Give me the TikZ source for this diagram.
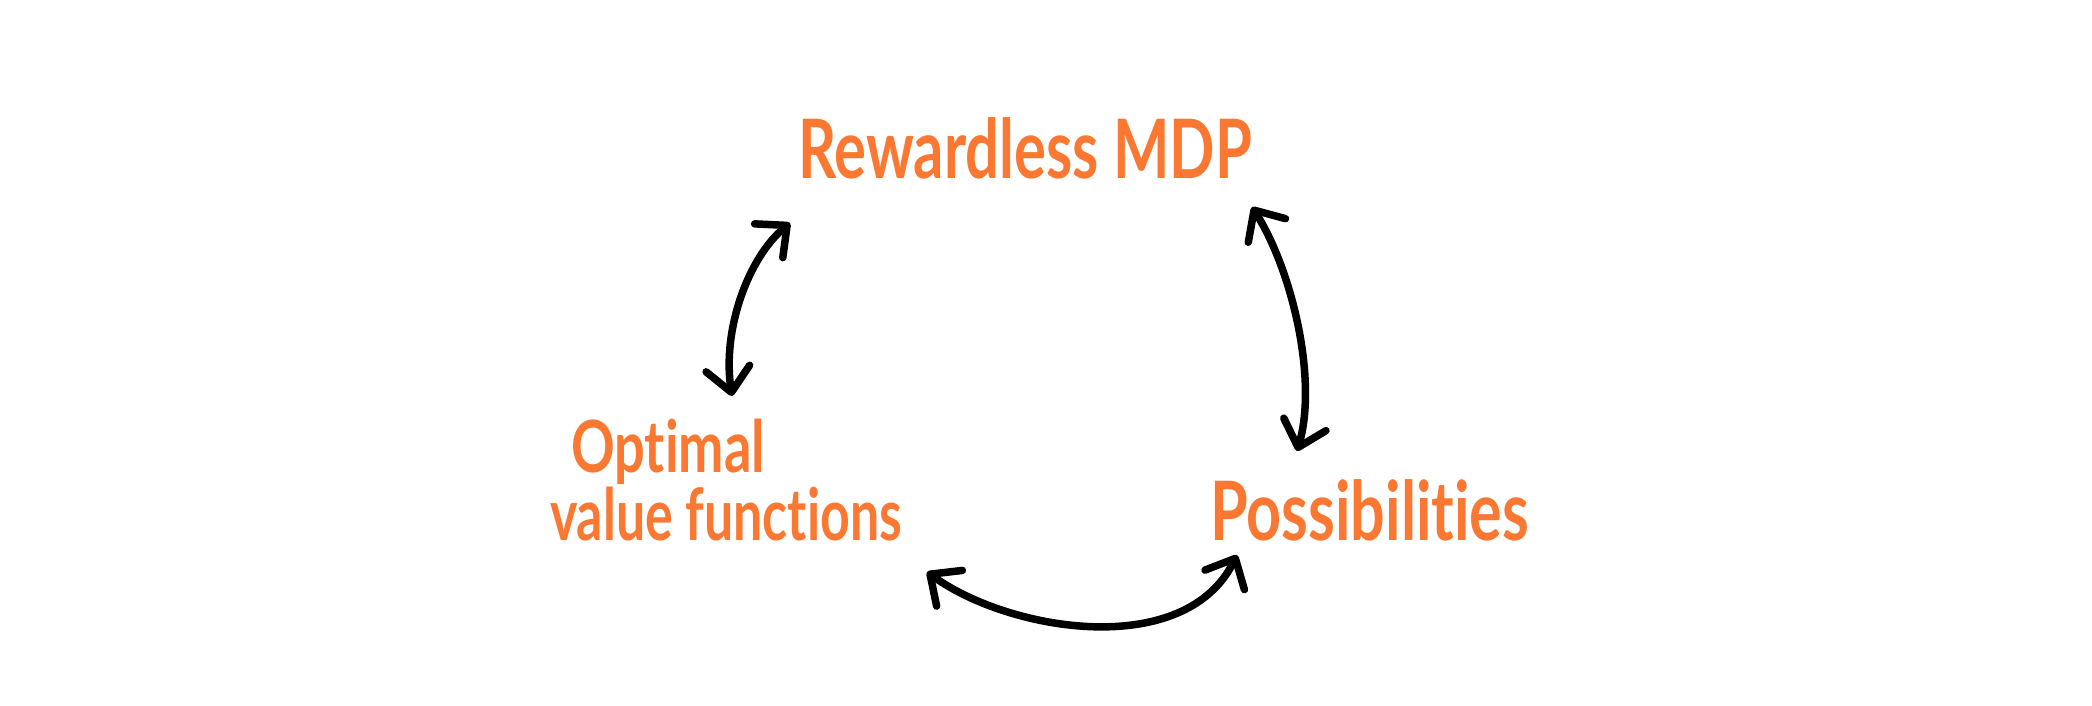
\documentclass[tikz,border=0pt]{standalone}
\usepackage{fontspec}
\setmainfont{Lato}[Ligatures={NoCommon,NoRare}]
\usepackage{graphicx}
\usetikzlibrary{arrows.meta}
\definecolor{handorange}{RGB}{250,120,50}
\tikzset{handbarb/.tip={Straight Barb[length=24pt,width=44pt,round]}}
\begin{document}
\begin{tikzpicture}[x=1pt,y=-1pt,
  lbl/.style={text=handorange,inner sep=0pt,anchor=base west},
  conn/.style={line width=7.5pt,line cap=round,handbarb-handbarb}]
\useasboundingbox (0,0) rectangle (2092,706);
% labels
\node[lbl,font=\fontsize{82}{82}\selectfont\bfseries] (rm) at (798,178)
  {\resizebox{454pt}{\height}{Rewardless MDP}};
\node[lbl,font=\fontsize{72}{68}\selectfont\bfseries] (opt) at (571,472)
  {\resizebox{194pt}{\height}{Opt\kern0pt imal}};
\node[lbl,font=\fontsize{72}{68}\selectfont\bfseries] (vf) at (550,540)
  {\resizebox{352pt}{\height}{value funct\kern0pt ions}};
\node[lbl,font=\fontsize{82}{82}\selectfont\bfseries] (pos) at (1210,540)
  {\resizebox{319pt}{\height}{Possibilit\kern0pt ies}};
% connector end points
\coordinate (rmL) at (790,223);
\coordinate (ovT) at (732,396);
\coordinate (rmR) at (1252,207);
\coordinate (posT) at (1297,451);
\coordinate (posL) at (1237,555);
\coordinate (vfR) at (927,572);
% connectors
\draw[conn] (rmL) .. controls (748,258) and (722,330) .. (ovT);
\draw[conn] (rmR) .. controls (1292,270) and (1318,380) .. (posT);
\draw[conn] (vfR) .. controls (1010,632) and (1185,660) .. (posL);
\end{tikzpicture}
\end{document}
